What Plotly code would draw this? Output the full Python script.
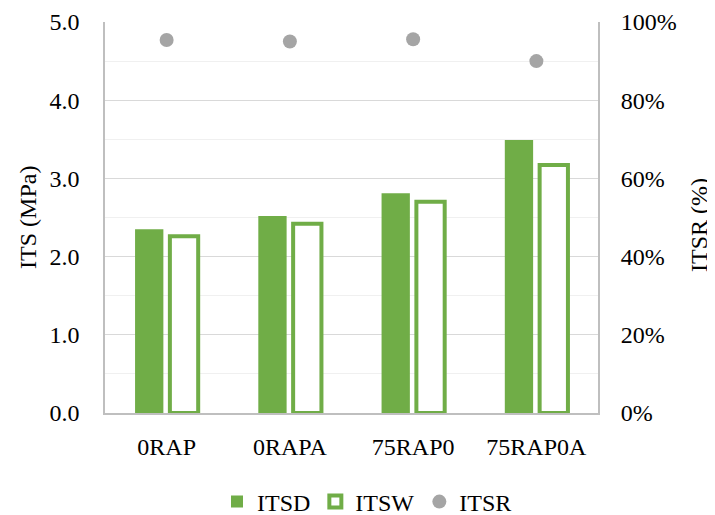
import plotly.graph_objects as go

categories = ["0RAP", "0RAPA", "75RAP0", "75RAP0A"]
itsd = [2.35, 2.52, 2.81, 3.49]
itsw = [2.26, 2.42, 2.70, 3.17]
itsr = [0.954, 0.950, 0.956, 0.900]

GREEN = "#70AD47"
GRAY = "#A5A5A5"
FONT = "Liberation Serif, serif"
FS = 24

# page has an 8px body margin: figure drawn at (8, 8)
W, H = 707, 507
L, R, T, B = 97, 117, 14, 102
PW = W - L - R
PH = H - T - B

fig = go.Figure()
fig.add_trace(go.Bar(name="ITSD", x=categories, y=itsd, marker=dict(color=GREEN, line=dict(width=0)),
                     yaxis="y"))
fig.add_trace(go.Bar(name="ITSW", x=categories, y=itsw,
                     marker=dict(color="white", line=dict(color=GREEN, width=4)),
                     cliponaxis=False, yaxis="y"))
fig.add_trace(go.Scatter(name="ITSR", x=categories, y=itsr, mode="markers",
                         marker=dict(color=GRAY, size=14), yaxis="y2"))

fig.update_layout(
    width=W, height=H,
    margin=dict(l=L, r=R, t=T, b=B, autoexpand=False),
    paper_bgcolor="white", plot_bgcolor="white",
    font=dict(family=FONT, size=FS, color="#000000"),
    barmode="group", bargap=0.435, bargroupgap=0.187,
    showlegend=True,
    legend=dict(orientation="h", x=(209 - L) / PW, xanchor="left",
                y=-(494 - (T + PH)) / PH, yanchor="middle",
                font=dict(family=FONT, size=FS, color="#000000"), itemwidth=30,
                traceorder="normal", tracegroupgap=0, bgcolor="rgba(0,0,0,0)"),
    xaxis=dict(showline=True, linecolor="#BFBFBF", linewidth=1.5, showgrid=False, automargin=False,
               ticks="outside", ticklen=11, tickcolor="rgba(0,0,0,0)",
               tickfont=dict(family=FONT, size=FS)),
    yaxis=dict(range=[0, 5], dtick=1, tickformat=".1f", showgrid=True, gridcolor="#D9D9D9",
               gridwidth=1.2, showline=True, linecolor="#BFBFBF", linewidth=1.5, mirror=True,
               ticks="outside", ticklen=19, tickcolor="rgba(0,0,0,0)", zeroline=False,
               automargin=False,
               minor=dict(dtick=0.5, showgrid=True, gridcolor="#F0F0F0", gridwidth=1.2)),
    yaxis2=dict(range=[0, 1], dtick=0.2, tickformat=".0%", overlaying="y", side="right",
                showgrid=False, zeroline=False, showline=False, automargin=False,
                ticks="outside", ticklen=17, tickcolor="rgba(0,0,0,0)"),
    annotations=[
        dict(text="ITS (MPa)", xref="paper", yref="paper", x=(20 - L) / PW, y=0.499,
             xanchor="center", yanchor="middle", textangle=-90, showarrow=False,
             font=dict(family=FONT, size=FS)),
        dict(text="ITSR (%)", xref="paper", yref="paper", x=(691 - L) / PW, y=0.481,
             xanchor="center", yanchor="middle", textangle=-90, showarrow=False,
             font=dict(family=FONT, size=FS)),
    ],
)

fig.write_html("out.html")
